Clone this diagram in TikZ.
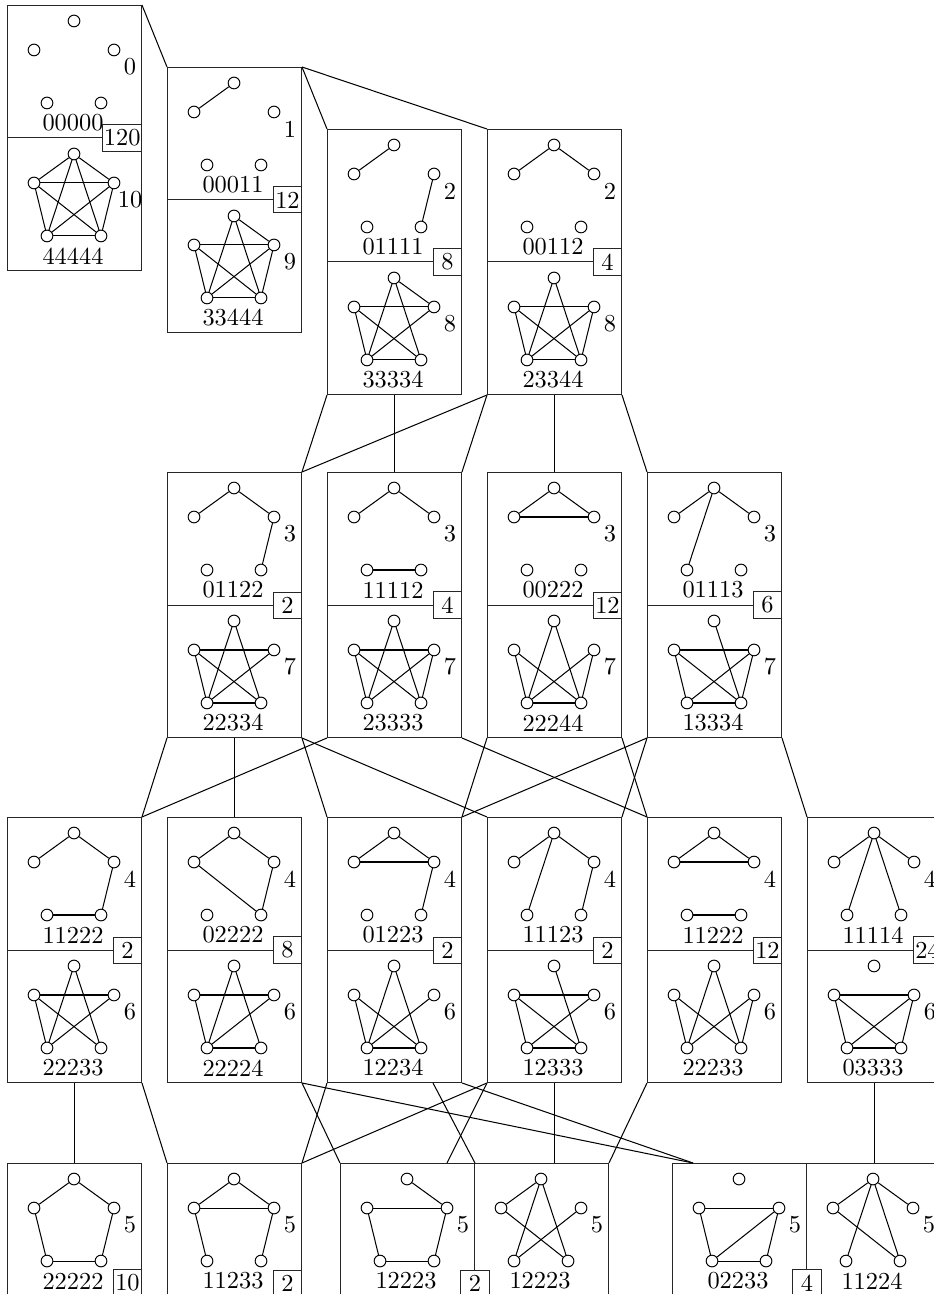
\documentclass[tikz,border=0pt]{standalone}
\usetikzlibrary{calc}
\tikzset{
  gbox/.style={rectangle, draw=black!85, minimum width=54.94pt, minimum height=108.65pt, inner sep=0pt, anchor=north west},
  vert/.style={circle, draw, fill=white, inner sep=0pt, minimum size=4.8pt},
  gedge/.style={line width=0.42pt},
  seqlabel/.style={inner sep=0pt},
  numlabel/.style={inner sep=0pt},
  countbox/.style={rectangle, draw=black!85, fill=white, inner xsep=0.4pt, inner ysep=2pt, minimum width=11.5pt},
  split/.style={draw=black!85},
  link/.style={line width=0.42pt}
}
% one half of a box: five vertices, the edges, degree sequence and edge count
\newcommand{\halfg}[4]{%
  \begin{scope}[shift={(#1)}]
    \foreach \i/\vx/\vy in {0/67/16,1/27/45,2/107/45,3/40/98,4/94/98}
      \node[vert] (v\i) at (\vx,\vy) {};
    \def\edgelist{#2}%
    \ifx\edgelist\empty\else
      \foreach \a/\b in {#2} \draw[gedge] (v\a) -- (v\b);
    \fi
    \node[seqlabel] at (66,118) {#3};
    \node[numlabel] at (123,62) {#4};
  \end{scope}}

\begin{document}
\begin{tikzpicture}[x=0.41pt, y=-0.41pt]
  \useasboundingbox (0,0) rectangle (934,1294);
  \clip (0,0) rectangle (934,1294);

  % boxes
  \node[gbox] (e0) at (7,5) {};
  \node[gbox] (e1) at (167,67) {};
  \node[gbox] (e2a) at (327,129) {};
  \node[gbox] (e2b) at (487,129) {};
  \node[gbox] (e3a) at (167,472) {};
  \node[gbox] (e3b) at (327,472) {};
  \node[gbox] (e3c) at (487,472) {};
  \node[gbox] (e3d) at (647,472) {};
  \node[gbox] (e4a) at (7,817) {};
  \node[gbox] (e4b) at (167,817) {};
  \node[gbox] (e4c) at (327,817) {};
  \node[gbox] (e4d) at (487,817) {};
  \node[gbox] (e4e) at (647,817) {};
  \node[gbox] (e4f) at (807,817) {};
  \node[gbox] (e5a) at (7,1163) {};
  \node[gbox] (e5b) at (167,1163) {};
  \node[gbox] (e5c) at (340,1163) {};
  \node[gbox] (e5d) at (474,1163) {};
  \node[gbox] (e5e) at (672,1163) {};
  \node[gbox] (e5f) at (806,1163) {};

  \foreach \b in {e0,e1,e2a,e2b,e3a,e3b,e3c,e3d,e4a,e4b,e4c,e4d,e4e,e4f}
    \draw[split] (\b.west) -- (\b.east);

  % graphs and their complements
  \halfg{e0.north west}{}{00000}{0}
  \halfg{e0.west}{0/1,0/2,0/3,0/4,1/2,1/3,1/4,2/3,2/4,3/4}{44444}{10}
  \halfg{e1.north west}{0/1}{00011}{1}
  \halfg{e1.west}{0/2,0/3,0/4,1/2,1/3,1/4,2/3,2/4,3/4}{33444}{9}
  \halfg{e2a.north west}{0/1,2/4}{01111}{2}
  \halfg{e2a.west}{0/2,0/3,0/4,1/2,1/3,1/4,2/3,3/4}{33334}{8}
  \halfg{e2b.north west}{0/1,0/2}{00112}{2}
  \halfg{e2b.west}{0/3,0/4,1/2,1/3,1/4,2/3,2/4,3/4}{23344}{8}
  \halfg{e3a.north west}{0/1,0/2,2/4}{01122}{3}
  \halfg{e3a.west}{0/3,0/4,1/2,1/3,1/4,2/3,3/4}{22334}{7}
  \halfg{e3b.north west}{0/1,0/2,3/4}{11112}{3}
  \halfg{e3b.west}{0/3,0/4,1/2,1/3,1/4,2/3,2/4}{23333}{7}
  \halfg{e3c.north west}{0/1,0/2,1/2}{00222}{3}
  \halfg{e3c.west}{0/3,0/4,1/3,1/4,2/3,2/4,3/4}{22244}{7}
  \halfg{e3d.north west}{0/1,0/2,0/3}{01113}{3}
  \halfg{e3d.west}{0/4,1/2,1/3,1/4,2/3,2/4,3/4}{13334}{7}
  \halfg{e4a.north west}{0/1,0/2,2/4,3/4}{11222}{4}
  \halfg{e4a.west}{0/3,0/4,1/2,1/3,1/4,2/3}{22233}{6}
  \halfg{e4b.north west}{0/1,0/2,2/4,1/4}{02222}{4}
  \halfg{e4b.west}{0/3,0/4,1/2,1/3,2/3,3/4}{22224}{6}
  \halfg{e4c.north west}{0/1,0/2,1/2,2/4}{01223}{4}
  \halfg{e4c.west}{0/3,0/4,1/3,1/4,2/3,3/4}{12234}{6}
  \halfg{e4d.north west}{0/1,0/2,0/3,2/4}{11123}{4}
  \halfg{e4d.west}{0/4,1/2,1/3,1/4,2/3,3/4}{12333}{6}
  \halfg{e4e.north west}{0/1,0/2,1/2,3/4}{11222}{4}
  \halfg{e4e.west}{0/3,0/4,1/3,1/4,2/3,2/4}{22233}{6}
  \halfg{e4f.north west}{0/1,0/2,0/3,0/4}{11114}{4}
  \halfg{e4f.west}{1/2,1/3,1/4,2/3,2/4,3/4}{03333}{6}
  \halfg{e5a.north west}{0/1,0/2,1/3,3/4,2/4}{22222}{5}
  \halfg{e5b.north west}{0/1,0/2,1/2,1/3,2/4}{11233}{5}
  \halfg{e5c.north west}{0/2,1/2,1/3,3/4,2/4}{12223}{5}
  \halfg{e5d.north west}{0/1,0/3,0/4,1/4,2/3}{12223}{5}
  \halfg{e5e.north west}{1/2,1/3,3/4,2/4,2/3}{02233}{5}
  \halfg{e5f.north west}{0/1,0/2,0/3,0/4,1/4}{11224}{5}

  % counts
  \node[countbox, anchor=east] at (e0.east) {120};
  \node[countbox, anchor=east] at (e1.east) {12};
  \node[countbox, anchor=east] at (e2a.east) {8};
  \node[countbox, anchor=east] at (e2b.east) {4};
  \node[countbox, anchor=east] at (e3a.east) {2};
  \node[countbox, anchor=east] at (e3b.east) {4};
  \node[countbox, anchor=east] at (e3c.east) {12};
  \node[countbox, anchor=east] at (e3d.east) {6};
  \node[countbox, anchor=east] at (e4a.east) {2};
  \node[countbox, anchor=east] at (e4b.east) {8};
  \node[countbox, anchor=east] at (e4c.east) {2};
  \node[countbox, anchor=east] at (e4d.east) {2};
  \node[countbox, anchor=east] at (e4e.east) {12};
  \node[countbox, anchor=east] at (e4f.east) {24};
  \node[countbox, anchor=east] at ($(e5a.north east)+(0,120)$) {10};
  \node[countbox, anchor=east] at ($(e5b.north east)+(0,120)$) {2};
  \node[countbox] at ($(e5c.north east)+(0,120)$) {2};
  \node[countbox] at ($(e5e.north east)+(0,120)$) {4};

  % connectors
  \draw[link] (e0.north east) -- (e1.north west);
  \draw[link] (e1.north east) -- (e2a.north west);
  \draw[link] (e1.north east) -- (e2b.north west);

  \draw[link] (e2a.south west) -- (e3a.north east);
  \draw[link] (e2a.south) -- (e3b.north);
  \draw[link] (e2b.south west) -- (e3a.north east);
  \draw[link] (e2b.south west) -- (e3b.north east);
  \draw[link] (e2b.south) -- (e3c.north);
  \draw[link] (e2b.south east) -- (e3d.north west);

  \draw[link] (e3a.south west) -- (e4a.north east);
  \draw[link] (e3a.south) -- (e4b.north);
  \draw[link] (e3a.south east) -- (e4c.north west);
  \draw[link] (e3a.south east) -- (e4d.north west);
  \draw[link] (e3b.south west) -- (e4a.north east);
  \draw[link] (e3b.south east) -- (e4e.north west);
  \draw[link] (e3c.south west) -- (e4c.north east);
  \draw[link] (e3c.south east) -- (e4e.north west);
  \draw[link] (e3d.south west) -- (e4c.north east);
  \draw[link] (e3d.south west) -- (e4d.north east);
  \draw[link] (e3d.south east) -- (e4f.north west);

  \draw[link] (e4a.south) -- (e5a.north);
  \draw[link] (e4a.south east) -- (e5b.north west);
  \draw[link] (e4b.south east) -- (e5c.north west);
  \draw[link] (e4b.south east) -- ($(e5e.north west)+(21,0)$);
  \draw[link] (e4c.south west) -- (e5b.north east);
  \draw[link] ($(e4c.south west)+(106,0)$) -- (e5c.north east);
  \draw[link] (e4c.south east) -- ($(e5e.north west)+(21,0)$);
  \draw[link] (e4d.south west) -- (e5b.north east);
  \draw[link] (e4d.south west) -- ($(e5c.north west)+(107,0)$);
  \draw[link] (e4d.south) -- (e4d.south |- e5d.north);
  \draw[link] (e4e.south west) -- (e5d.north east);
  \draw[link] (e4f.south) -- (e4f.south |- e5f.north);
\end{tikzpicture}
\end{document}
